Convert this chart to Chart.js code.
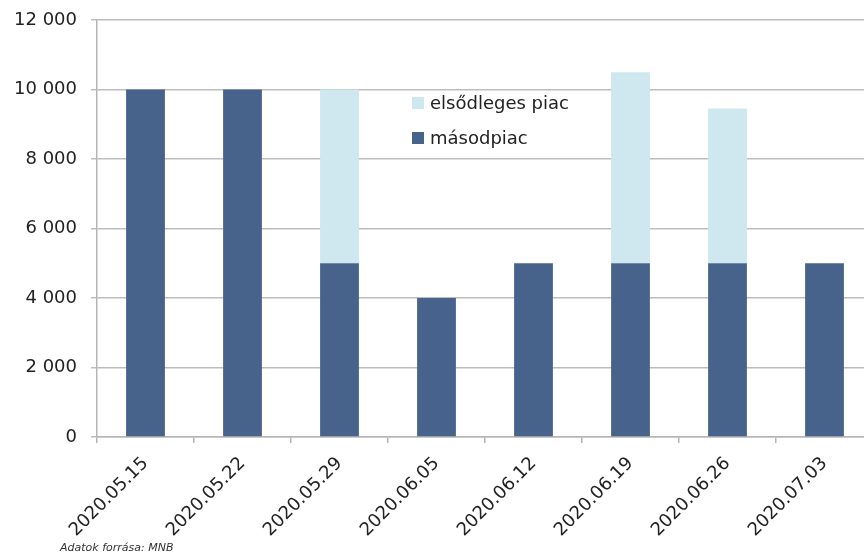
<!DOCTYPE html>
<html>
<head>
<meta charset="utf-8">
<script src="https://cdn.jsdelivr.net/npm/chart.js@4/dist/chart.umd.min.js"></script>
<style>
  html, body { margin: 0; padding: 0; background: #fff; overflow: hidden; }
  #wrap { position: relative; width: 874px; height: 553px; }
  #legend { position: absolute; left: 412px; top: 85px; font-family: "DejaVu Sans", sans-serif; font-size: 18px; color: #222; }
  #legend div { display: flex; align-items: center; height: 35px; }
  #legend span.box { width: 12px; height: 12px; margin-right: 6px; display: inline-block; }
  #source { position: absolute; left: 60px; top: 541px; font-family: "DejaVu Sans", sans-serif; font-size: 11px; font-style: italic; color: #333; }
</style>
</head>
<body>
<div id="wrap">
  <canvas id="chart" width="874" height="553"></canvas>
  <div id="legend"></div>
  <div id="source">Adatok forrása: MNB</div>
</div>
<script>
const dates = ['2020.05.15', '2020.05.22', '2020.05.29', '2020.06.05', '2020.06.12', '2020.06.19', '2020.06.26', '2020.07.03'];
const masodpiac = [10000, 10000, 5000, 4000, 5000, 5000, 5000, 5000];
const elsodleges = [0, 0, 5000, 0, 0, 5500, 4450, 0];

const darkBlue = '#48638b';
const lightBlue = '#cfe7ee';
const tickFont = { family: 'DejaVu Sans', size: 18 };

const legendEl = document.getElementById('legend');
[['elsődleges piac', lightBlue], ['másodpiac', darkBlue]].forEach(([label, color]) => {
  const row = document.createElement('div');
  row.innerHTML = `<span class="box" style="background:${color}"></span>${label}`;
  legendEl.appendChild(row);
});

new Chart(document.getElementById('chart').getContext('2d'), {
  type: 'bar',
  data: {
    labels: dates,
    datasets: [
      { label: 'másodpiac', data: masodpiac, backgroundColor: darkBlue, barPercentage: 0.4, categoryPercentage: 1 },
      { label: 'elsődleges piac', data: elsodleges, backgroundColor: lightBlue, barPercentage: 0.4, categoryPercentage: 1 }
    ]
  },
  options: {
    responsive: false,
    animation: false,
    layout: { padding: { top: 20, right: 1, left: 0, bottom: 0 } },
    plugins: { legend: { display: false }, tooltip: { enabled: false } },
    scales: {
      x: {
        stacked: true,
        grid: { offset: true, drawOnChartArea: false, drawTicks: true, tickLength: 6, color: '#b5b5b5', lineWidth: 1.5 },
        border: { color: '#b5b5b5', width: 1.5 },
        ticks: { font: tickFont, color: '#222', autoSkip: false, minRotation: 45, maxRotation: 45, padding: 10 },
        afterFit: scale => { scale.height = 116; }
      },
      y: {
        stacked: true,
        min: 0,
        max: 12000,
        grid: { color: '#bdbdbd', lineWidth: 1.5, tickLength: 6 },
        border: { color: '#b5b5b5', width: 1.5 },
        ticks: {
          stepSize: 2000,
          font: tickFont,
          color: '#222',
          padding: 14,
          callback: v => String(v).replace(/\B(?=(\d{3})+(?!\d))/g, ' ')
        },
        afterFit: scale => { scale.width = 97; scale.paddingTop = 0; scale.paddingBottom = 0; }
      }
    }
  }
});
</script>
</body>
</html>
